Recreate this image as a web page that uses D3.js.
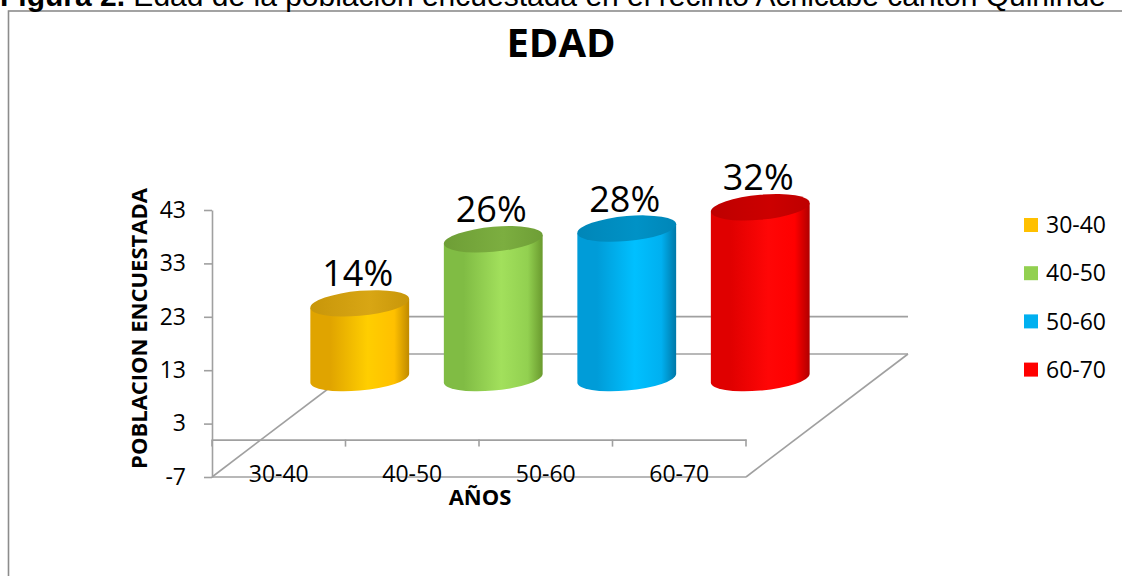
<!DOCTYPE html>
<html>
<head>
<meta charset="utf-8">
<script src="https://cdn.jsdelivr.net/npm/d3@7"></script>
<style>
  html, body { margin: 0; padding: 0; background: #fff; }
  svg { display: block; }
  text { font-family: "Open Sans", sans-serif; fill: #000; }
</style>
</head>
<body>
<svg id="chart" width="1122" height="576"></svg>
<script>
// ---- data ----
const categories = ["30-40", "40-50", "50-60", "60-70"];
const values = [14, 26, 28, 32];
const yTicks = [-7, 3, 13, 23, 33, 43];
const legendLabels = ["30-40", "40-50", "50-60", "60-70"];
const chartTitle = "EDAD";
const yTitle = "POBLACION ENCUESTADA";
const xTitle = "AÑOS";
const caption = ["Figura 2.", " Edad de la población encuestada en el recinto Achicabe cantón Quinindé"];

// colour sets
const palette = [
  {main: "#FFC000", edge: "#C08A00", left: "#E0A400", bright: "#FFCE00", top: "#C8960A", topLight: "#D8A614"},
  {main: "#92D050", edge: "#6A9A2E", left: "#80BC44", bright: "#A2E05C", top: "#6E9E36", topLight: "#7CAE40"},
  {main: "#00B0F0", edge: "#0078A8", left: "#009CD8", bright: "#00C0FF", top: "#0086B8", topLight: "#0092C6"},
  {main: "#FF0000", edge: "#B00000", left: "#E00000", bright: "#FF0606", top: "#BE0000", topLight: "#CC0000"}
];

const svg = d3.select("#chart");
const defs = svg.append("defs");

// chart frame
svg.append("rect").attr("x", 8.5).attr("y", 11).attr("width", 1300).attr("height", 700)
  .attr("fill", "#fff").attr("stroke", "#8c8c8c").attr("stroke-width", 1.6);

// caption (cut at top, as in the source)
const cap = svg.append("text").attr("x", 0).attr("y", 6)
  .style("font-family", "'Liberation Sans', Arial, sans-serif").style("font-size", "30px");
cap.append("tspan").style("font-weight", "bold").text(caption[0]);
cap.append("tspan").text(caption[1]);

// title
svg.append("text").attr("x", 561).attr("y", 57).attr("text-anchor", "middle")
  .style("font-size", "40px").style("font-weight", "bold").text(chartTitle);

// scales
const y = d3.scaleLinear().domain([-7, 43]).range([477, 210]);
const x = d3.scaleBand().domain(categories).range([212, 746]).padding(0);
const depth = {dx: 162, dy: -123};
const lineColor = "#a0a0a0";

const g = svg.append("g");
const line = (x1, y1, x2, y2) => g.append("line")
  .attr("x1", x1).attr("y1", y1).attr("x2", x2).attr("y2", y2)
  .attr("stroke", lineColor).attr("stroke-width", 1.6);

const x0 = x.range()[0], x1 = x.range()[1];
// back wall lines (floor and zero level)
line(x0 + depth.dx, y(-7) + depth.dy, x1 + depth.dx, y(-7) + depth.dy);
line(x0 + depth.dx, y(0) + depth.dy, x1 + depth.dx, y(0) + depth.dy);
// floor side edges
line(x0, y(-7), x0 + depth.dx, y(-7) + depth.dy);
line(x1, y(-7), x1 + depth.dx, y(-7) + depth.dy);

// y axis
const yAxis = d3.axisLeft(y).tickValues(yTicks).tickSize(8).tickPadding(18).tickSizeOuter(0)
  .tickFormat(d => String(d));
const ya = svg.append("g").attr("transform", `translate(${x0},0)`).call(yAxis);
ya.select(".domain").attr("stroke", lineColor).attr("stroke-width", 1.6);
ya.selectAll(".tick line").attr("stroke", lineColor).attr("stroke-width", 1.6);
ya.selectAll(".tick text").style("font-family", "'Open Sans', sans-serif").style("font-size", "23px").attr("fill", "#000");

// front floor line
line(x0, y(-7), x1, y(-7));
// zero-level category axis with ticks
const xAxis = d3.axisBottom(x).tickSize(7).tickSizeOuter(0).tickFormat("");
const xa = svg.append("g").attr("transform", `translate(0,${y(0)})`).call(xAxis);
xa.select(".domain").attr("stroke", lineColor).attr("stroke-width", 1.6);
xa.selectAll(".tick").remove();
const bounds = [...categories.map(c => x(c)), x1];
bounds.forEach(b => line(b, y(0), b, y(0) + 7));

// cylinders
const total = d3.sum(values);
const rx = x.bandwidth() * 0.37, ry = 12.5;
const skew = -5;
const cyl = svg.append("g");
categories.forEach((c, i) => {
  const p = palette[i];
  const gb = defs.append("linearGradient").attr("id", "body" + i).attr("x1", 0).attr("x2", 1).attr("y1", 0).attr("y2", 0);
  gb.append("stop").attr("offset", "0%").attr("stop-color", p.left);
  gb.append("stop").attr("offset", "20%").attr("stop-color", p.left);
  gb.append("stop").attr("offset", "58%").attr("stop-color", p.bright);
  gb.append("stop").attr("offset", "85%").attr("stop-color", p.main);
  gb.append("stop").attr("offset", "100%").attr("stop-color", p.edge);
  const gt = defs.append("linearGradient").attr("id", "top" + i).attr("x1", 0).attr("x2", 1).attr("y1", 0).attr("y2", 0);
  gt.append("stop").attr("offset", "0%").attr("stop-color", p.top);
  gt.append("stop").attr("offset", "60%").attr("stop-color", p.topLight);
  gt.append("stop").attr("offset", "100%").attr("stop-color", p.top);

  const cx = x(c) + x.bandwidth() / 2 + depth.dx / 2;
  const base = y(0) + depth.dy / 2;
  const top = base - (y(0) - y(values[i]));
  const cg = cyl.append("g").attr("transform", `translate(${cx},0) skewY(${skew})`);
  cg.append("path")
    .attr("d", `M${-rx},${top} L${-rx},${base} A${rx},${ry} 0 0 0 ${rx},${base} L${rx},${top} Z`)
    .attr("fill", `url(#body${i})`);
  cg.append("ellipse").attr("cx", 0).attr("cy", top).attr("rx", rx).attr("ry", ry)
    .attr("fill", `url(#top${i})`);

  svg.append("text").attr("x", cx - 2).attr("y", top - 17).attr("text-anchor", "middle")
    .style("font-size", "36px").text(Math.round(values[i] / total * 100) + "%");

  // category label
  svg.append("text").attr("x", x(c) + x.bandwidth() / 2).attr("y", 482).attr("text-anchor", "middle")
    .style("font-size", "23px").text(c);
});

// axis titles
svg.append("text").attr("transform", `translate(146.5,328.5) rotate(-90)`).attr("text-anchor", "middle")
  .style("font-size", "22px").style("font-weight", "bold").text(yTitle);
svg.append("text").attr("x", 480).attr("y", 505).attr("text-anchor", "middle")
  .style("font-size", "22px").style("font-weight", "bold").text(xTitle);

// legend
const lg = svg.append("g");
legendLabels.forEach((l, i) => {
  const cy = 225 + i * 48.2;
  lg.append("rect").attr("x", 1024).attr("y", cy - 7).attr("width", 14).attr("height", 14).attr("fill", palette[i].main);
  lg.append("text").attr("x", 1046).attr("y", cy).attr("dy", "0.36em").style("font-size", "23px").text(l);
});
</script>
</body>
</html>
